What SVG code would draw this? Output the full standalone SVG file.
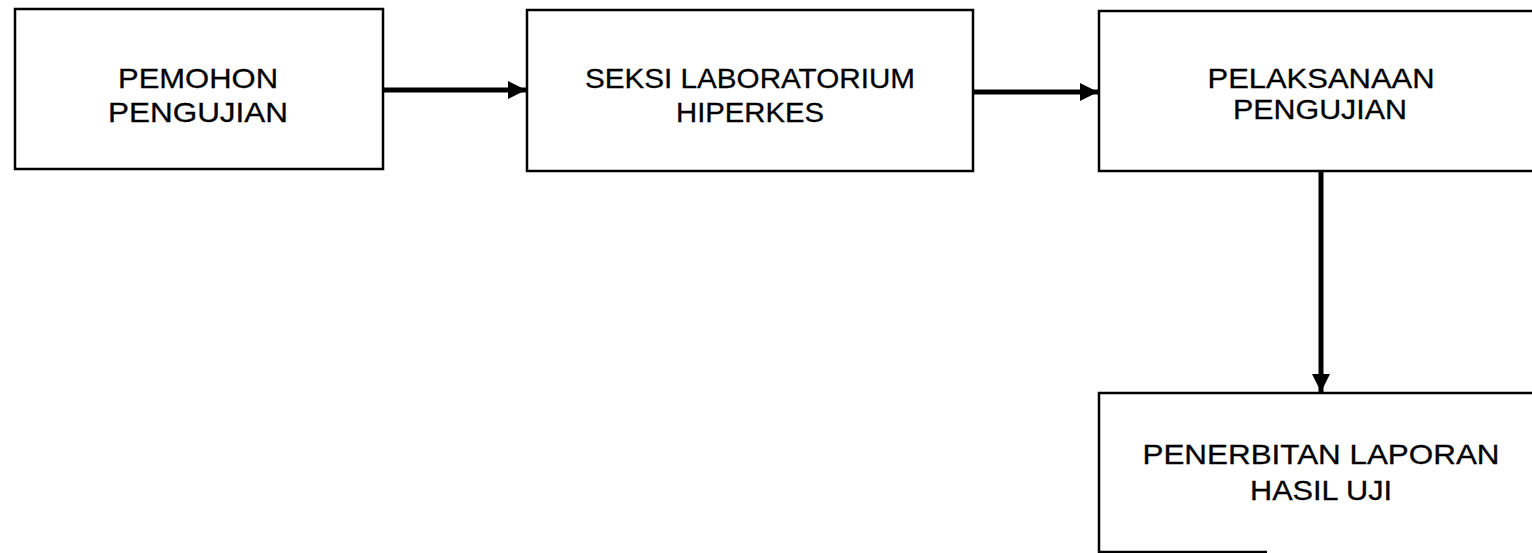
<svg xmlns="http://www.w3.org/2000/svg" width="1532" height="553" viewBox="0 0 1532 553">
<defs>
<style>
.box{fill:#fff;stroke:#000;stroke-width:2.5}
.lbl{font-family:"Liberation Sans",Arial,sans-serif;font-size:28px;fill:#000;stroke:#000;stroke-width:0.3;text-anchor:middle}
.conn{stroke:#000;stroke-width:5;fill:none}
</style>
<marker id="ah" markerUnits="userSpaceOnUse" markerWidth="20" markerHeight="20" refX="18" refY="9" orient="auto">
<path d="M0,0 L18,9 L0,18 Z" fill="#000"/>
</marker>
</defs>
<rect width="1532" height="553" fill="#fff"/>
<g id="connectors">
<line class="conn" x1="384" y1="90" x2="526" y2="90" marker-end="url(#ah)"/>
<line class="conn" x1="974" y1="92" x2="1098" y2="92" marker-end="url(#ah)"/>
<line class="conn" x1="1321" y1="172" x2="1321" y2="392" marker-end="url(#ah)"/>
</g>
<g id="n1">
<rect class="box" x="15" y="9" width="368" height="160"/>
<text class="lbl" x="198" y="88" textLength="160" lengthAdjust="spacingAndGlyphs">PEMOHON</text>
<text class="lbl" x="198" y="122" textLength="180" lengthAdjust="spacingAndGlyphs">PENGUJIAN</text>
</g>
<g id="n2">
<rect class="box" x="527" y="10" width="446" height="161"/>
<text class="lbl" x="750" y="88" textLength="330" lengthAdjust="spacingAndGlyphs">SEKSI LABORATORIUM</text>
<text class="lbl" x="750" y="122" textLength="148" lengthAdjust="spacingAndGlyphs">HIPERKES</text>
</g>
<g id="n3">
<rect class="box" x="1099" y="11" width="500" height="160"/>
<text class="lbl" x="1321" y="88" textLength="227" lengthAdjust="spacingAndGlyphs">PELAKSANAAN</text>
<text class="lbl" x="1320" y="119" textLength="174" lengthAdjust="spacingAndGlyphs">PENGUJIAN</text>
</g>
<g id="n4">
<path class="box" d="M1540,393 L1099,393 L1099,552 L1267,552"/>
<text class="lbl" x="1321" y="464" textLength="357" lengthAdjust="spacingAndGlyphs">PENERBITAN LAPORAN</text>
<text class="lbl" x="1321" y="500" textLength="142" lengthAdjust="spacingAndGlyphs">HASIL UJI</text>
</g>
</svg>
